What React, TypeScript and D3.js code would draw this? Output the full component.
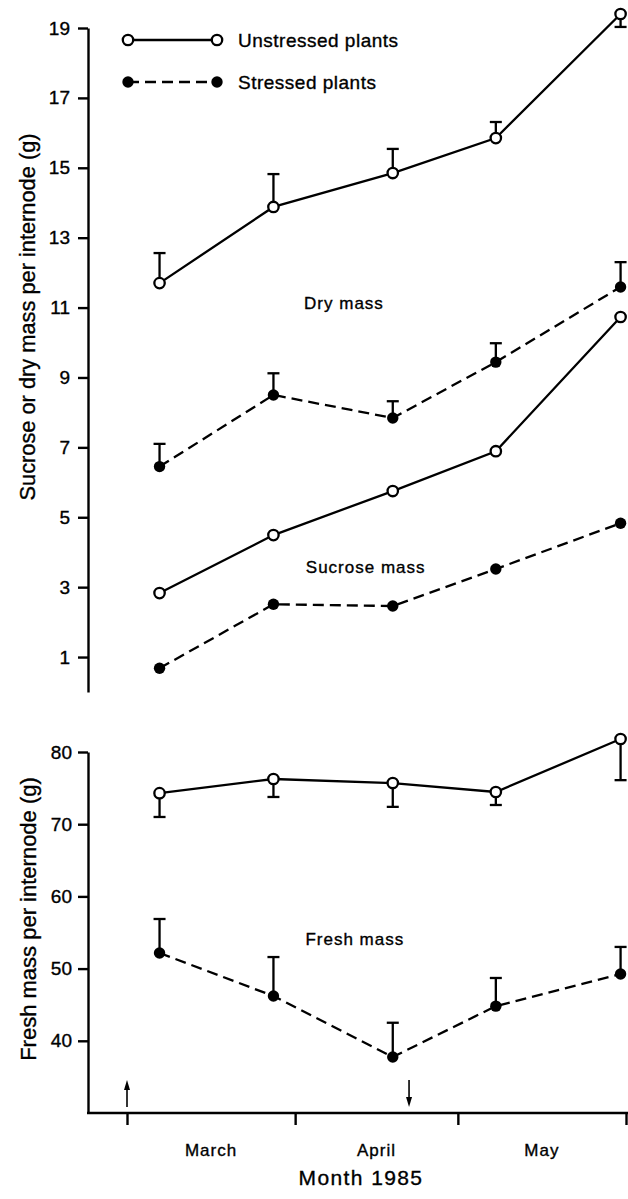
import * as d3 from "d3";
import { useRef, useEffect } from "react";

const parse = d3.timeParse("%Y-%m-%d");

// harvest dates, shared by both panels
const sampleDates = ["1985-03-07", "1985-03-28", "1985-04-19", "1985-05-08", "1985-05-31"];

// dry mass per internode (g) and the end of its error bar
const dryUnstressed = [11.7, 13.88, 14.85, 15.85, 19.4];
const dryUnstressedBar = [12.56, 14.82, 15.54, 16.31, 19.03];
const dryStressed = [6.45, 8.5, 7.84, 9.44, 11.59];
const dryStressedBar = [7.1, 9.12, 8.32, 9.98, 12.3];

// sucrose mass per internode (g), no error bars
const sucroseUnstressed = [2.83, 4.49, 5.75, 6.89, 10.73];
const sucroseStressed = [0.68, 2.51, 2.46, 3.52, 4.83];

// fresh mass per internode (g)
const freshUnstressed = [74.3, 76.26, 75.7, 74.46, 81.8];
const freshUnstressedBar = [71.0, 73.77, 72.4, 72.66, 76.1];
const freshStressed = [52.16, 46.2, 37.76, 44.8, 49.25];
const freshStressedBar = [56.87, 51.6, 42.5, 48.7, 53.0];

const topTicks = [1, 3, 5, 7, 9, 11, 13, 15, 17, 19];
const bottomTicks = [40, 50, 60, 70, 80];
const monthStarts = ["1985-03-01", "1985-04-01", "1985-05-01", "1985-06-01"];
const monthLabels = ["March", "April", "May"];

// start / end of the stress period
const stressArrows = [
  { date: "1985-03-01", dir: "up" },
  { date: "1985-04-22", dir: "down" },
];

const panelLabels = [
  { text: "Dry mass", date: "1985-04-10", value: 10.96, panel: "top" },
  { text: "Sucrose mass", date: "1985-04-14", value: 3.4, panel: "top" },
  { text: "Fresh mass", date: "1985-04-12", value: 53.3, panel: "bottom" },
];

const FONT = "'Liberation Sans', Arial, sans-serif";
const INK = "#000";
const TEXT_STROKE = 0.35; // scan makes the lettering look heavy

const width = 628;
const height = 1199;
const axisX = 88;
const DASH = "11,6";

const x = d3
  .scaleTime()
  .domain([parse("1985-03-01")!, parse("1985-06-01")!])
  .range([127, 626]);

const yTop = d3.scaleLinear().domain([0, 19]).range([692, 28]);
const yBottom = d3.scaleLinear().domain([30, 80]).range([1113, 752]);

const dates = sampleDates.map((d) => parse(d)!);

type SeriesProps = {
  values: number[];
  bars?: number[];
  y: d3.ScaleLinear<number, number>;
  stressed: boolean;
};

const Series = ({ values, bars, y, stressed }: SeriesProps) => {
  const line = d3
    .line<number>()
    .x((_, i) => x(dates[i]))
    .y((v) => y(v));
  return (
    <g>
      <path
        d={line(values) || ""}
        fill="none"
        stroke={INK}
        strokeWidth={2.3}
        strokeDasharray={stressed ? DASH : undefined}
      />
      {bars &&
        bars.map((b, i) => (
          <g key={i} stroke={INK} strokeWidth={2.3}>
            <line x1={x(dates[i])} x2={x(dates[i])} y1={y(values[i])} y2={y(b)} />
            <line x1={x(dates[i]) - 6} x2={x(dates[i]) + 6} y1={y(b)} y2={y(b)} />
          </g>
        ))}
      {values.map((v, i) =>
        stressed ? (
          <circle key={i} cx={x(dates[i])} cy={y(v)} r={5.7} fill={INK} />
        ) : (
          <circle key={i} cx={x(dates[i])} cy={y(v)} r={5.2} fill="#fff" stroke={INK} strokeWidth={2.3} />
        )
      )}
    </g>
  );
};

const styleAxis = (g: d3.Selection<SVGGElement, unknown, null, undefined>) => {
  g.attr("font-size", 19).attr("font-family", FONT);
  g.selectAll("line, path").attr("stroke", INK).attr("stroke-width", 2.4);
  g.selectAll("text").attr("fill", INK).attr("stroke", INK).attr("stroke-width", TEXT_STROKE);
};

export default function App() {
  const gTop = useRef<SVGGElement | null>(null);
  const gBottom = useRef<SVGGElement | null>(null);
  const gX = useRef<SVGGElement | null>(null);

  useEffect(() => {
    if (gTop.current) {
      const g = d3.select(gTop.current);
      g.call(d3.axisLeft(yTop).tickValues(topTicks).tickSize(10).tickSizeOuter(0).tickPadding(8));
      styleAxis(g);
    }
    if (gBottom.current) {
      const g = d3.select(gBottom.current);
      g.call(d3.axisLeft(yBottom).tickValues(bottomTicks).tickSize(10).tickSizeOuter(0).tickPadding(6));
      styleAxis(g);
    }
    if (gX.current) {
      const g = d3.select(gX.current);
      g.call(
        d3
          .axisBottom(x)
          .tickValues(monthStarts.map((d) => parse(d)!))
          .tickSize(12)
          .tickSizeOuter(0)
          .tickFormat(() => "")
      );
      styleAxis(g);
      g.select(".domain").remove();
    }
  }, []);

  const xAxisY = yBottom.range()[0];
  const months = monthStarts.map((d) => parse(d)!);

  return (
    <svg
      width={width}
      height={height}
      style={{ position: "absolute", left: 0, top: 0, background: "#fff" }}
      fontFamily={FONT}
    >
      <g fill={INK} stroke={INK} strokeWidth={TEXT_STROKE}>
        {/* axis titles */}
        <text transform={`translate(35,317) rotate(-90)`} textAnchor="middle" fontSize={21.8}>
          Sucrose or dry mass per internode (g)
        </text>
        <text transform={`translate(36,919) rotate(-90)`} textAnchor="middle" fontSize={22}>
          Fresh mass per internode (g)
        </text>
        {monthLabels.map((m, i) => (
          <text
            key={m}
            x={(x(months[i]) + x(months[i + 1])) / 2}
            y={1156}
            textAnchor="middle"
            fontSize={17}
            letterSpacing={1}
          >
            {m}
          </text>
        ))}
        <text x={361} y={1185} textAnchor="middle" fontSize={21} letterSpacing={1.4}>
          Month 1985
        </text>

        {/* panel labels */}
        {panelLabels.map((l) => (
          <text
            key={l.text}
            x={x(parse(l.date)!)}
            y={(l.panel === "top" ? yTop : yBottom)(l.value)}
            textAnchor="middle"
            fontSize={17}
            letterSpacing={1}
          >
            {l.text}
          </text>
        ))}

        {/* legend text */}
        <text x={238} y={47} fontSize={19} letterSpacing={0.5}>
          Unstressed plants
        </text>
        <text x={238} y={89} fontSize={19} letterSpacing={0.5}>
          Stressed plants
        </text>
      </g>

      {/* legend keys */}
      <g>
        <line x1={128} x2={217} y1={40} y2={40} stroke={INK} strokeWidth={2.3} />
        <circle cx={128} cy={40} r={5.2} fill="#fff" stroke={INK} strokeWidth={2.3} />
        <circle cx={217} cy={40} r={5.2} fill="#fff" stroke={INK} strokeWidth={2.3} />
        <line x1={128} x2={217} y1={82} y2={82} stroke={INK} strokeWidth={2.3} strokeDasharray={DASH} />
        <circle cx={128} cy={82} r={5.7} fill={INK} />
        <circle cx={217} cy={82} r={5.7} fill={INK} />
      </g>

      {/* axes */}
      <g ref={gTop} transform={`translate(${axisX},0)`} />
      <g ref={gBottom} transform={`translate(${axisX},0)`} />
      <g ref={gX} transform={`translate(0,${xAxisY})`} />
      <line x1={axisX - 1} x2={width} y1={xAxisY} y2={xAxisY} stroke={INK} strokeWidth={2.6} />

      {/* stress period arrows */}
      {stressArrows.map((a) => {
        const ax = x(parse(a.date)!);
        const top = xAxisY - 33;
        const bot = xAxisY - 6;
        return (
          <g key={a.date} stroke={INK} fill={INK}>
            <line
              x1={ax}
              x2={ax}
              y1={a.dir === "up" ? top + 8 : top}
              y2={a.dir === "up" ? bot : bot - 8}
              strokeWidth={1.6}
            />
            {a.dir === "up" ? (
              <path d={`M${ax},${top} L${ax - 3},${top + 10} L${ax + 3},${top + 10} Z`} stroke="none" />
            ) : (
              <path d={`M${ax},${bot} L${ax - 3},${bot - 10} L${ax + 3},${bot - 10} Z`} stroke="none" />
            )}
          </g>
        );
      })}

      {/* data */}
      <Series values={dryUnstressed} bars={dryUnstressedBar} y={yTop} stressed={false} />
      <Series values={dryStressed} bars={dryStressedBar} y={yTop} stressed={true} />
      <Series values={sucroseUnstressed} y={yTop} stressed={false} />
      <Series values={sucroseStressed} y={yTop} stressed={true} />
      <Series values={freshUnstressed} bars={freshUnstressedBar} y={yBottom} stressed={false} />
      <Series values={freshStressed} bars={freshStressedBar} y={yBottom} stressed={true} />
    </svg>
  );
}
